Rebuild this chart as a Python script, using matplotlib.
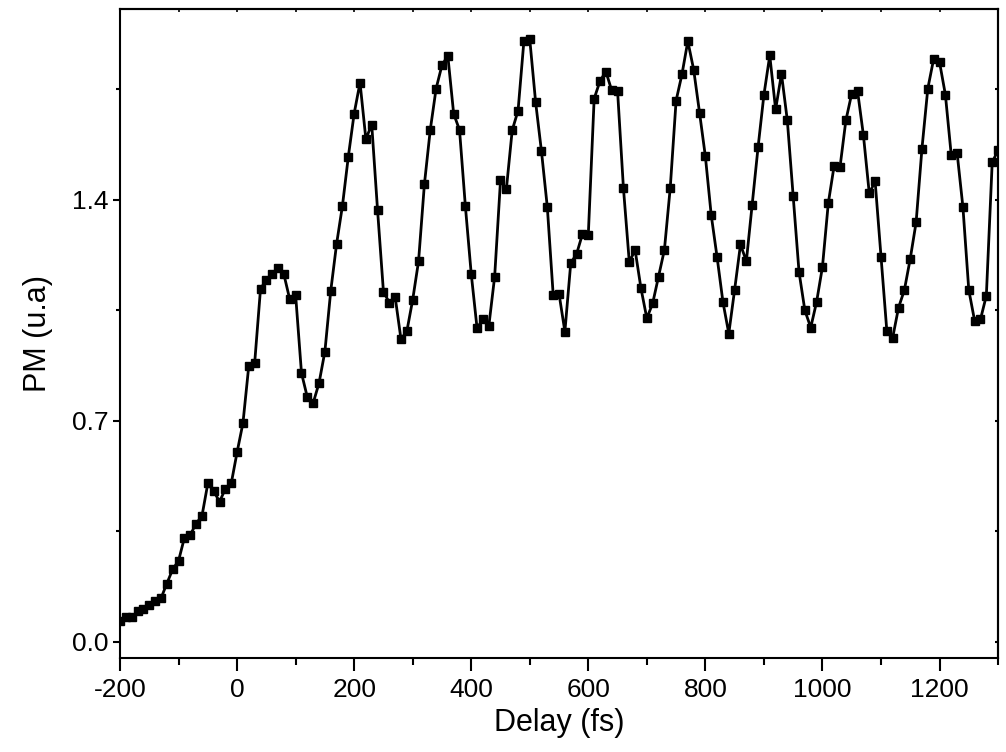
import matplotlib
matplotlib.use("Agg")
import matplotlib.pyplot as plt
from matplotlib.ticker import MultipleLocator

plt.rcParams['font.family'] = ['Liberation Sans', 'DejaVu Sans']
plt.rcParams['axes.unicode_minus'] = False

# delay grid (fs)
delay = [-200, -190, -180, -170, -160, -150, -140, -130, -120, -110,
         -100, -90, -80, -70, -60, -50, -40, -30, -20, -10,
         0, 10, 20, 30, 40, 50, 60, 70, 80, 90,
         100, 110, 120, 130, 140, 150, 160, 170, 180, 190,
         200, 210, 220, 230, 240, 250, 260, 270, 280, 290,
         300, 310, 320, 330, 340, 350, 360, 370, 380, 390,
         400, 410, 420, 430, 440, 450, 460, 470, 480, 490,
         500, 510, 520, 530, 540, 550, 560, 570, 580, 590,
         600, 610, 620, 630, 640, 650, 660, 670, 680, 690,
         700, 710, 720, 730, 740, 750, 760, 770, 780, 790,
         800, 810, 820, 830, 840, 850, 860, 870, 880, 890,
         900, 910, 920, 930, 940, 950, 960, 970, 980, 990,
         1000, 1010, 1020, 1030, 1040, 1050, 1060, 1070, 1080, 1090,
         1100, 1110, 1120, 1130, 1140, 1150, 1160, 1170, 1180, 1190,
         1200, 1210, 1220, 1230, 1240, 1250, 1260, 1270, 1280, 1290,
         1300]

# PM signal (u.a)
pm = [0.064, 0.077, 0.077, 0.096, 0.103, 0.117, 0.127, 0.137, 0.184, 0.229,
      0.256, 0.329, 0.338, 0.374, 0.398, 0.501, 0.477, 0.443, 0.484, 0.501,
      0.600, 0.692, 0.874, 0.882, 1.117, 1.147, 1.165, 1.185, 1.163, 1.084,
      1.098, 0.851, 0.774, 0.756, 0.819, 0.919, 1.111, 1.260, 1.381, 1.536,
      1.673, 1.771, 1.592, 1.638, 1.366, 1.109, 1.074, 1.092, 0.958, 0.983,
      1.083, 1.205, 1.449, 1.621, 1.752, 1.826, 1.856, 1.672, 1.621, 1.379,
      1.165, 0.992, 1.023, 0.999, 1.156, 1.461, 1.433, 1.620, 1.682, 1.903,
      1.908, 1.709, 1.553, 1.376, 1.099, 1.102, 0.982, 1.199, 1.228, 1.291,
      1.289, 1.720, 1.776, 1.806, 1.746, 1.744, 1.437, 1.203, 1.240, 1.119,
      1.024, 1.072, 1.156, 1.241, 1.438, 1.714, 1.797, 1.902, 1.812, 1.676,
      1.537, 1.351, 1.218, 1.076, 0.976, 1.115, 1.258, 1.205, 1.384, 1.566,
      1.732, 1.857, 1.686, 1.799, 1.651, 1.411, 1.171, 1.049, 0.995, 1.076,
      1.187, 1.389, 1.508, 1.503, 1.651, 1.736, 1.744, 1.604, 1.420, 1.458,
      1.219, 0.984, 0.963, 1.058, 1.114, 1.213, 1.328, 1.562, 1.752, 1.846,
      1.836, 1.733, 1.542, 1.549, 1.376, 1.114, 1.016, 1.021, 1.096, 1.518,
      1.557]

fig = plt.figure(figsize=(10.06, 7.52), dpi=100)
ax = fig.add_axes([0.1193, 0.125, 0.8728, 0.863])

ax.plot(delay, pm, color='black', lw=2.0, marker='s', ms=6,
        mfc='black', mec='black')

ax.set_xlim(-200, 1300)
ax.set_ylim(-0.052, 2.004)

ax.xaxis.set_major_locator(MultipleLocator(200))
ax.xaxis.set_minor_locator(MultipleLocator(100))
ax.yaxis.set_major_locator(MultipleLocator(0.7))
ax.yaxis.set_minor_locator(MultipleLocator(0.35))
ax.yaxis.set_major_formatter(matplotlib.ticker.FormatStrFormatter('%.1f'))

for s in ax.spines.values():
    s.set_linewidth(1.5)

ax.tick_params(axis='x', which='major', direction='out', length=9.5, width=1.5,
               labelsize=19, pad=5)
ax.tick_params(axis='x', which='minor', direction='out', length=5, width=1.5)
ax.tick_params(axis='y', which='major', direction='out', length=5, width=1.5,
               labelsize=19, pad=3)
ax.tick_params(axis='y', which='minor', direction='out', length=3, width=1.5)

# mirrored inward ticks on top and right
top = ax.secondary_xaxis('top')
top.xaxis.set_major_locator(MultipleLocator(200))
top.xaxis.set_minor_locator(MultipleLocator(100))
top.tick_params(which='both', direction='in', length=2.5, width=1.2, labeltop=False)
right = ax.secondary_yaxis('right')
right.yaxis.set_major_locator(MultipleLocator(0.7))
right.yaxis.set_minor_locator(MultipleLocator(0.35))
right.tick_params(which='both', direction='in', length=2.5, width=1.5, labelright=False)
top.spines['top'].set_linewidth(1.5)
right.spines['right'].set_linewidth(1.5)

ax.set_xlabel('Delay (fs)', fontsize=22, labelpad=4)
ax.set_ylabel('PM (u.a)', fontsize=22, labelpad=14)

fig.savefig('out.png', dpi=100)
